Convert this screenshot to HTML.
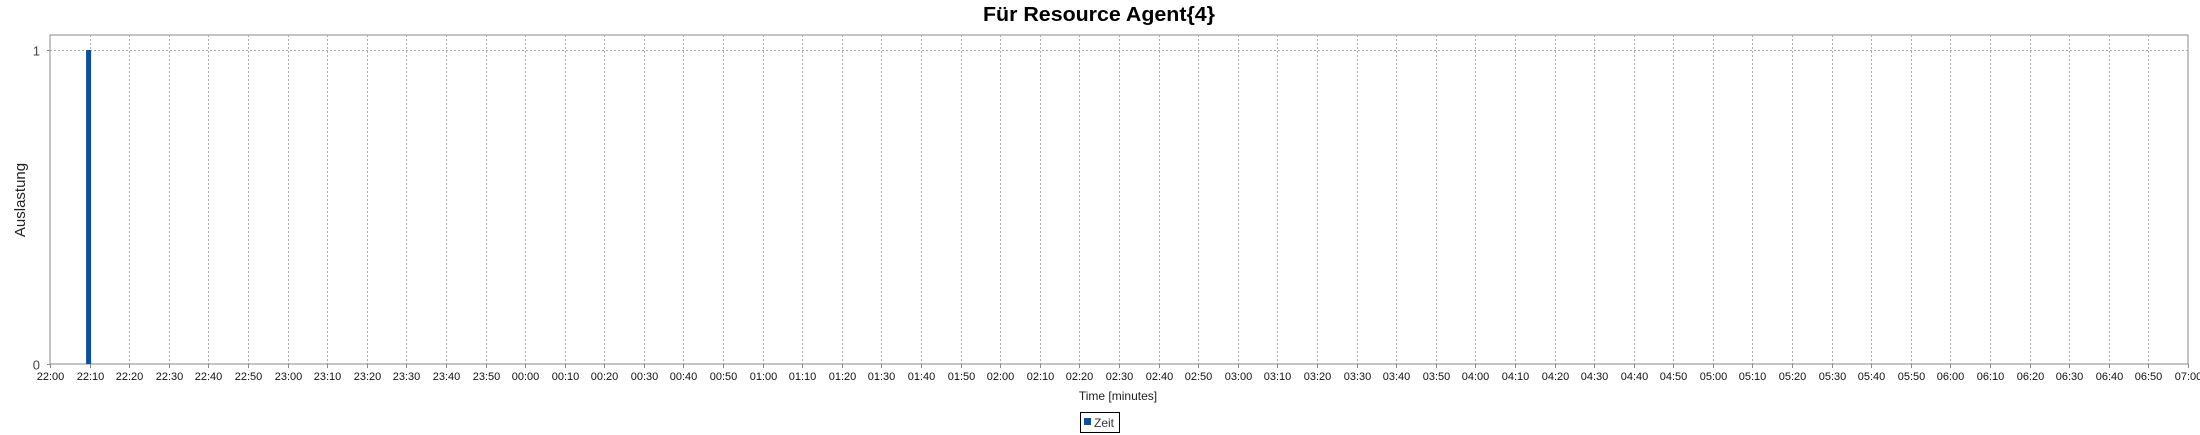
<!DOCTYPE html>
<html><head><meta charset="utf-8">
<style>
html,body{margin:0;padding:0;background:#fff;}
svg{display:block;font-family:"Liberation Sans","DejaVu Sans",sans-serif;}
</style></head>
<body>
<svg id="chart" width="2200" height="435" xmlns="http://www.w3.org/2000/svg">
<text x="1099" y="21" text-anchor="middle" font-size="20" font-weight="bold" textLength="232" lengthAdjust="spacingAndGlyphs" font-family="'Liberation Sans',sans-serif">Für Resource Agent{4}</text>
<rect x="50" y="35" width="2138" height="329" fill="#fff" stroke="#888" stroke-width="1"/>
<g id="grid"></g>
<g id="bars"></g>
<g id="xticks"></g>
<g id="yticks"></g>
<text transform="translate(25,200) rotate(-90)" text-anchor="middle" font-size="15" fill="#222">Auslastung</text>
<text x="1118" y="400" text-anchor="middle" font-size="12" fill="#222">Time [minutes]</text>
<g>
<rect x="1080.5" y="412.5" width="39" height="20" fill="#fff" stroke="#000"/>
<rect x="1084" y="418" width="7" height="7" fill="#0b50a0"/>
<text x="1094" y="427" font-size="12" fill="#333">Zeit</text>
</g>
</svg>
<script>
const minutesStart = 22*60;
const tickCount = 55;
const tickStepMin = 10;
const barTimes = ["22:10"];
const barValues = [1];
const yTicks = [0, 1];

const svg = document.getElementById('chart');
const NS = 'http://www.w3.org/2000/svg';
const L = 50, R = 2188, T = 35, B = 364, Y1 = 50;
const span = (tickCount-1)*tickStepMin;
function xs(m){ return L + (m - minutesStart)/span*(R-L); }
function ys(v){ return B - v*(B-Y1); }
function toMin(s){ let [h,m]=s.split(':').map(Number); let t=h*60+m; if(t<minutesStart) t+=1440; return t; }
function fmt(m){ m%=1440; const h=Math.floor(m/60), mm=m%60; return String(h).padStart(2,'0')+':'+String(mm).padStart(2,'0'); }
function mk(tag, attrs, parent){ const e=document.createElementNS(NS,tag); for(const k in attrs) e.setAttribute(k,attrs[k]); parent.appendChild(e); return e; }

const grid=document.getElementById('grid'), xt=document.getElementById('xticks'), yt=document.getElementById('yticks');
for(let i=0;i<tickCount;i++){
  const m = minutesStart + i*tickStepMin; const x = Math.round(xs(m))+0.5;
  if(i>0 && i<tickCount-1){
    const g = mk('line',{x1:x,x2:x,y1:T,y2:B,stroke:'#aaa','stroke-dasharray':'2,2'},grid);
    
    
  }
  const tk = mk('line',{x1:x,x2:x,y1:B,y2:B+4,stroke:'#888'},xt);
  
  
  const t = mk('text',{x:x,y:380,'text-anchor':'middle','font-size':'11',fill:'#111'},xt);
  t.textContent = fmt(m);
  
  
}
yTicks.forEach(v=>{
  const y=Math.round(ys(v))+0.5;
  if(v>0){
    const g=mk('line',{x1:L,x2:R,y1:y,y2:y,stroke:'#aaa','stroke-dasharray':'2,2'},grid);
    
    
  }
  const tk=mk('line',{x1:L-3,x2:L,y1:y,y2:y,stroke:'#888'},yt);
  
  
  const t=mk('text',{x:L-10,y:y+5,'text-anchor':'end','font-size':'13',fill:'#444'},yt);
  t.textContent=String(v);
  
  
});
const bars=document.getElementById('bars');
barTimes.forEach((s,i)=>{
  const cx=xs(toMin(s))-1; const y=ys(barValues[i]);
  const r=mk('rect',{x:cx-2.5,y:y,width:5,height:B-y,fill:'#0b50a0'},bars);
  
  
});
</script>
</body></html>
